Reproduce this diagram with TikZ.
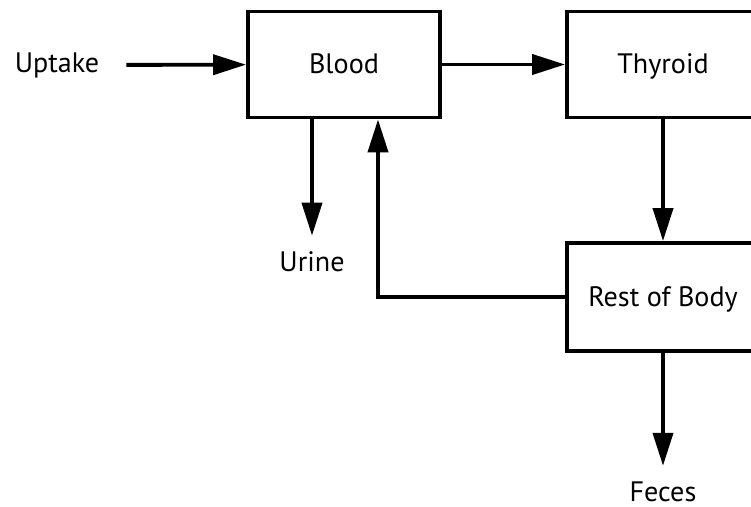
\documentclass[tikz,border=0pt]{standalone}
\usepackage{fontspec}
\setmainfont{PT Sans}
\usetikzlibrary{arrows.meta}

\begin{document}
\begin{tikzpicture}[x=0.02cm, y=-0.02cm,
    font=\fontsize{16}{19}\selectfont,
    compartment/.style={draw, rectangle, line width=2.2pt, minimum width=3.84cm, minimum height=2.12cm, text height=2.1ex, text depth=0pt},
    flow/.style={-{Triangle[length=0.66cm, width=0.4cm]}, line width=2.2pt}]
        \useasboundingbox (0,0) rectangle (751,507);
        \clip (0,0) rectangle (751,507);

        % Compartments
        \node[compartment] (blood) at (344, 64.5) {Blood};
        \node[compartment] (thyroid) at (663, 64.5) {Thyroid};
        \node[compartment, minimum height=2.16cm] (rest) at (663, 297) {Rest of Body};

        % Inputs and outputs
        \node (uptake) at (57, 65) {Uptake};
        \node (urine) at (312, 262) {Urine};
        \node (feces) at (663, 492) {Feces};

        % Connections
        \draw[flow, shorten <=0.42cm] (uptake) -- (blood);
        \draw[flow] (blood) -- (thyroid);
        \draw[flow] (thyroid) -- (rest);
        \draw[flow, shorten >=0.2cm] (blood.south -| urine) -- (urine.north);
        \draw[flow] (rest.west) -| ([xshift=0.68cm]blood.south);
        \draw[flow, shorten >=0.2cm] (rest) -- (feces.north);
    \end{tikzpicture}
\end{document}
